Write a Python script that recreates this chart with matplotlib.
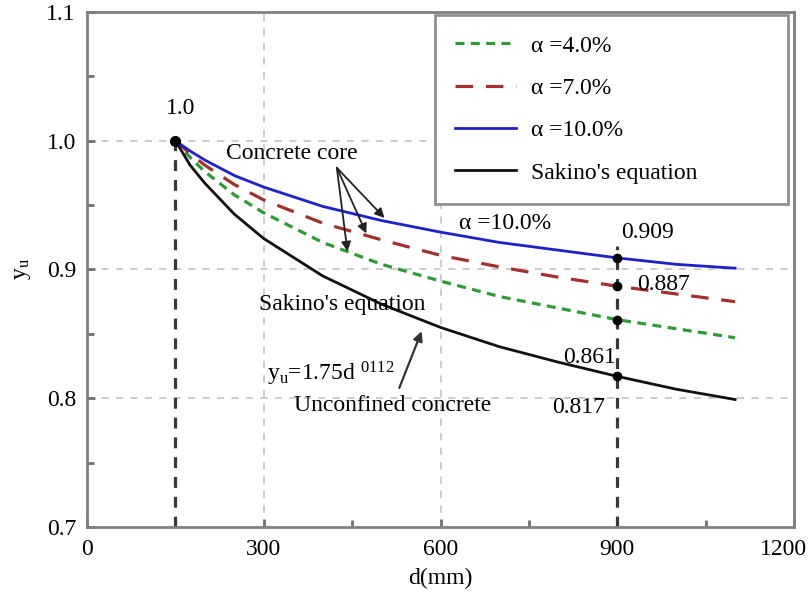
import numpy as np
import matplotlib
matplotlib.use("Agg")
from matplotlib import pyplot as plt
from matplotlib import transforms

plt.rcParams['font.family'] = ['Liberation Serif', 'DejaVu Serif']
plt.rcParams['mathtext.fontset'] = 'custom'
plt.rcParams['mathtext.rm'] = 'Liberation Serif'
plt.rcParams['mathtext.it'] = 'Liberation Serif'

# values
d = [150, 175, 200, 250, 300, 400, 500, 600, 700, 800, 900, 1000, 1100]
y_a4 = [1.0, 0.987, 0.976, 0.958, 0.944, 0.921, 0.904, 0.891, 0.879, 0.870, 0.861, 0.854, 0.847]
y_a7 = [1.0, 0.990, 0.981, 0.966, 0.954, 0.936, 0.923, 0.911, 0.902, 0.894, 0.887, 0.881, 0.875]
y_a10 = [1.0, 0.992, 0.985, 0.973, 0.964, 0.949, 0.938, 0.929, 0.921, 0.915, 0.909, 0.904, 0.901]
y_sakino = [1.0, 0.981, 0.967, 0.943, 0.924, 0.895, 0.873, 0.855, 0.840, 0.828, 0.817, 0.807, 0.799]

d_mark = 900
marks = [0.909, 0.887, 0.861, 0.817]
mark_labels = ["0.909", "0.887", "0.861", "0.817"]

fig = plt.figure(figsize=(8.08, 5.97), dpi=100)
ax = fig.add_axes([0.1077, 0.1173, 0.875, 0.8626])

grid_kw = dict(color="#c8c8c8", lw=1.3, ls=(0, (4, 4)), zorder=0)
for gx in [300, 600]:
    ax.axvline(gx, **grid_kw)
for gy in [0.8, 0.9, 1.0]:
    ax.axhline(gy, **grid_kw)

ax.plot(d, y_a4, color="#2e9a3a", lw=2.3, ls=(0, (2.8, 2.0)), label="α =4.0%", zorder=3)
ax.plot(d, y_a7, color="#a33030", lw=2.3, ls=(0, (5.5, 4)), label="α =7.0%", zorder=3)
ax.plot(d, y_a10, color="#2020c8", lw=2.0, label="α =10.0%", zorder=3)
ax.plot(d, y_sakino, color="#111111", lw=2.0, label="Sakino's equation", zorder=3)

# reference lines
ax.plot([150, 150], [0.7, 1.0], color="#383838", lw=2.3, ls=(0, (3.4, 2.8)), zorder=2)
ax.plot([d_mark, d_mark], [0.7, 0.918], color="#383838", lw=2.3, ls=(0, (3.4, 2.8)), zorder=2)

ax.plot([150], [1.0], "o", color="black", ms=7, zorder=5)
ax.plot([d_mark] * len(marks), marks, "o", color="black", ms=6, zorder=5)

fs = 17
ax.text(158, 1.025, "1.0", fontsize=fs, ha="center", va="center")
ax.text(907, 0.929, mark_labels[0], fontsize=fs, ha="left", va="center")
ax.text(934, 0.888, mark_labels[1], fontsize=fs, ha="left", va="center")
ax.text(898, 0.832, mark_labels[2], fontsize=fs, ha="right", va="center")
ax.text(880, 0.793, mark_labels[3], fontsize=fs, ha="right", va="center")

ax.text(236, 0.990, "Concrete core", fontsize=fs, ha="left", va="center")
for tx, ty in [(505, 0.940), (474, 0.928), (442, 0.914)]:
    ax.annotate("", xy=(tx, ty), xytext=(424, 0.979),
                arrowprops=dict(arrowstyle="-|>", color="#222222", lw=1.3,
                                mutation_scale=14, shrinkA=0, shrinkB=0))
ax.text(632, 0.936, "α =10.0%", fontsize=fs, ha="left", va="center")

ax.text(292, 0.873, "Sakino's equation", fontsize=fs, ha="left", va="center")
ax.text(306, 0.819, r"y$_{\rm u}$=1.75d $^{\rm 0112}$", fontsize=fs, ha="left", va="center")
ax.text(352, 0.794, "Unconfined concrete", fontsize=fs, ha="left", va="center")
ax.annotate("", xy=(568, 0.852), xytext=(530, 0.808),
            arrowprops=dict(arrowstyle="-|>", color="#333333", lw=1.6,
                            mutation_scale=14, shrinkA=0, shrinkB=0))

ax.set_xlim(0, 1200)
ax.set_ylim(0.7, 1.1)
ax.set_xticks([0, 300, 600, 900, 1200])
ax.set_yticks([0.7, 0.8, 0.9, 1.0, 1.1])
ax.set_xticks([150, 450, 750, 1050], minor=True)
ax.set_yticks([0.75, 0.85, 0.95, 1.05], minor=True)
ax.tick_params(which="both", direction="in", color="#707070", width=2, labelsize=fs)
ax.tick_params(which="major", length=6)
ax.tick_params(axis="x", which="major", pad=9)
ax.tick_params(axis="y", which="major", pad=8)
ax.tick_params(which="minor", length=5)
for s in ax.spines.values():
    s.set_color("#808080")
    s.set_linewidth(2)

# last x label sits a little left of its tick in the original
lbl = ax.get_xticklabels()[-1]
lbl.set_transform(lbl.get_transform() + transforms.ScaledTranslation(-11 / 100, 0, fig.dpi_scale_trans))

ax.set_xlabel("d(mm)", fontsize=fs, labelpad=5)
ax.set_ylabel(r"y$_{\rm u}$", fontsize=fs, labelpad=10)

leg = ax.legend(loc="upper left", bbox_to_anchor=(0.492, 0.649, 0.5, 0.345), mode="expand",
                fontsize=fs, handlelength=2.6, handletextpad=0.64, labelspacing=0.88,
                borderpad=0.85, fancybox=False, framealpha=1, borderaxespad=0)
leg.get_frame().set_edgecolor("#909090")
leg.get_frame().set_linewidth(2)

plt.savefig("out.png", dpi=100)
